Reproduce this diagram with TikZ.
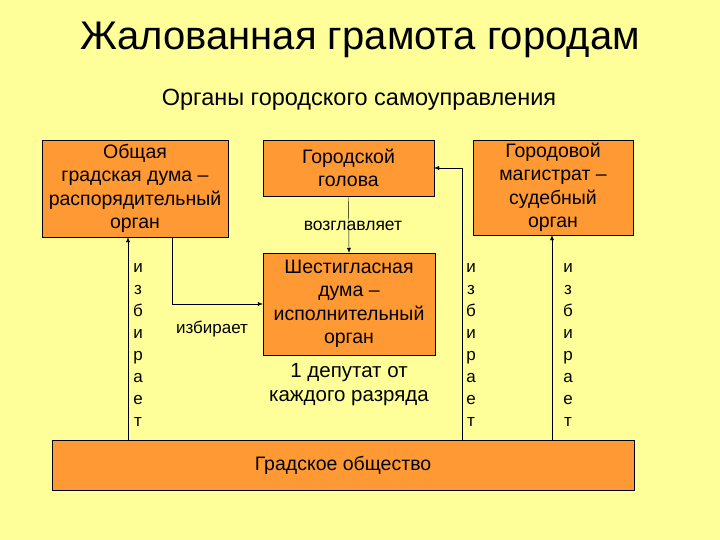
\documentclass[tikz,border=0pt]{standalone}
\usepackage{fontspec}
\setmainfont{Liberation Sans}
\usetikzlibrary{arrows.meta}
\definecolor{bgyellow}{RGB}{255,255,153}
\definecolor{boxorange}{RGB}{255,153,51}
\tikzset{
  organ/.style={draw=black, fill=boxorange, align=center, inner sep=0pt,
    font=\fontsize{19.5}{23.5}\selectfont},
  arr/.style={-{Latex[length=5pt,width=4pt]}},
  spelled/.style={align=center, font=\fontsize{17}{22}\selectfont},
}
\begin{document}
\begin{tikzpicture}[x=1pt, y=-1pt]
\def\lx{128}
\def\mx{462}
\def\rx{552}

\useasboundingbox (0,0) rectangle (720,540);
\fill[bgyellow] (0,0) rectangle (720,540);

\node[font=\fontsize{40}{42}\selectfont] (title) at (360,40) {Жалованная грамота городам};
\node[font=\fontsize{23.5}{25}\selectfont] (subtitle) at (359,100) {Органы городского самоуправления};

% boxes
\node[organ, minimum width=186pt, minimum height=97pt] (obshaya) at (135,188.5)
  {Общая\\градская дума --\\распорядительный\\орган};
\node[organ, minimum width=171pt, minimum height=56pt] (golova) at (348.5,168)
  {Городской\\голова};
\node[organ, minimum width=160pt, minimum height=95pt] (magistrat) at (553,187.5)
  {Городовой\\магистрат --\\судебный\\орган};
\node[organ, minimum width=172pt, minimum height=102pt] (shest) at (349,304)
  {Шестигласная\\дума --\\исполнительный\\орган};
\node[organ, minimum width=582pt, minimum height=50pt] (grad) at (343,465)
  {Градское общество};

\coordinate (lx) at (\lx,0);
\coordinate (mx) at (\mx,0);
\coordinate (rx) at (\rx,0);
\coordinate (ox) at (172,0);

% arrows
\draw[arr] (lx |- grad.north) -- (lx |- obshaya.south);
\draw[arr] (mx |- grad.north) -- (mx |- golova.east) -- (golova.east);
\draw[arr] (rx |- grad.north) -- (rx |- magistrat.south);
\draw[arr] (ox |- obshaya.south) -- (ox |- shest.west) -- (shest.west);
\draw[arr] (golova.south) -- (shest.north);

% labels
\node[font=\fontsize{17.5}{18}\selectfont] (vozgl) at (353,226) {возглавляет};
\node[font=\fontsize{17}{18}\selectfont] (izb) at (212,329) {избирает};
\node[font=\fontsize{20.5}{24}\selectfont, align=center] (deputat) at (349,385)
  {1 депутат от\\каждого разряда};
\node[spelled] (izbL) at (138,345) {и\\з\\б\\и\\р\\а\\е\\т};
\node[spelled] (izbM) at (471,345) {и\\з\\б\\и\\р\\а\\е\\т};
\node[spelled] (izbR) at (568,345) {и\\з\\б\\и\\р\\а\\е\\т};
\end{tikzpicture}
\end{document}
